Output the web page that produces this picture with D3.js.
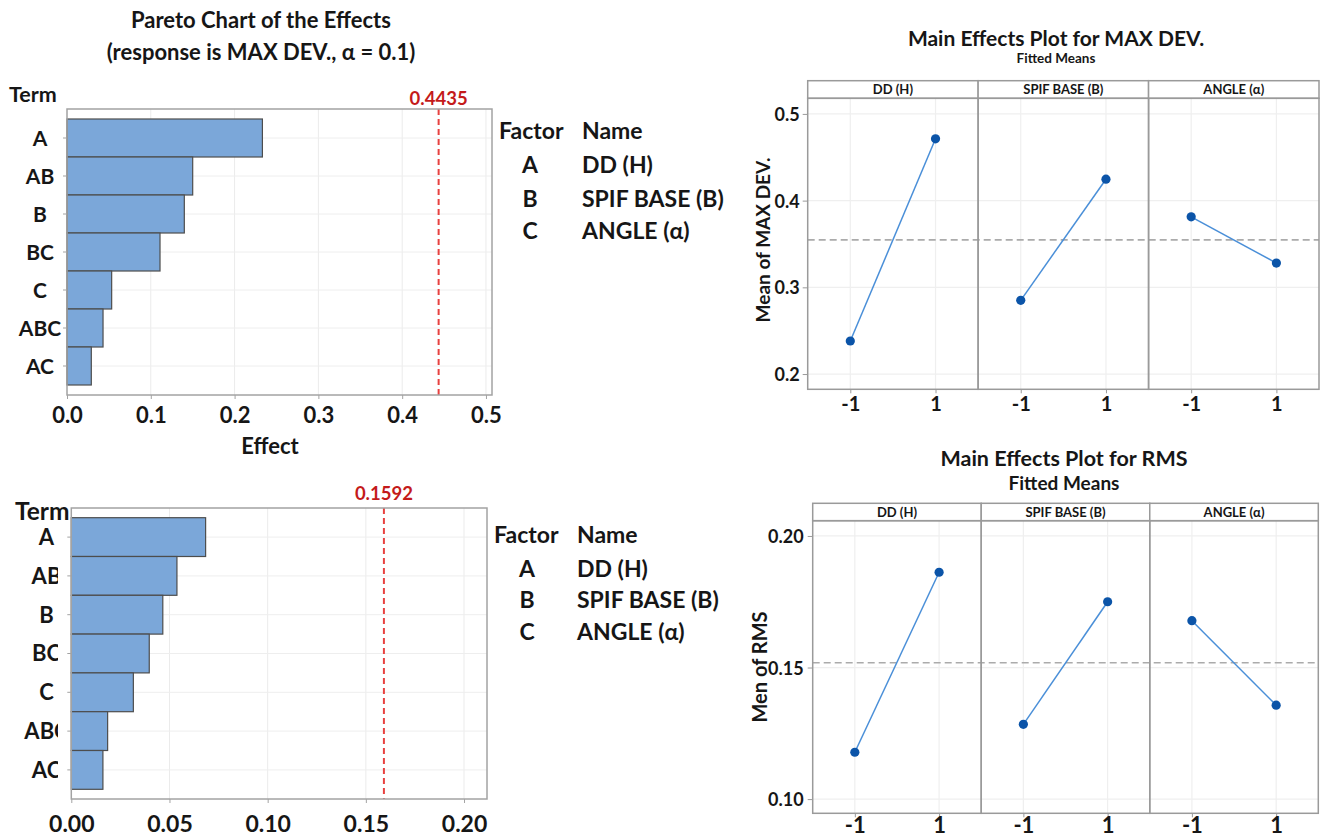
<!DOCTYPE html>
<html>
<head>
<meta charset="utf-8">
<script src="https://cdn.jsdelivr.net/npm/d3@7/dist/d3.min.js"></script>
<style>
  html, body { margin: 0; padding: 0; background: #fff; }
  svg { display: block; font-family: Lato, "Open Sans", sans-serif; font-weight: 700; }
</style>
</head>
<body>
<svg id="chart" width="1321" height="837"></svg>
<script>
// ---- data ----
const paretoTerms = ["A", "AB", "B", "BC", "C", "ABC", "AC"];
const maxDevEffects = [0.2332, 0.150, 0.140, 0.111, 0.0533, 0.043, 0.029];
const rmsEffects = [0.0684, 0.0538, 0.0466, 0.0397, 0.0316, 0.0185, 0.0161];
const maxDevRefEffect = 0.4435;
const rmsRefEffect = 0.1592;
const maxDevEffectTicks = [0, 0.1, 0.2, 0.3, 0.4, 0.5];
const rmsEffectTicks = [0, 0.05, 0.10, 0.15, 0.20];

const factorCodes = ["A", "B", "C"];
const factorNames = ["DD (H)", "SPIF BASE (B)", "ANGLE (α)"];
const levels = [-1, 1];
const maxDevMeans = [[0.2381, 0.4713], [0.2850, 0.4247], [0.3813, 0.3280]];
const rmsMeans = [[0.1178, 0.1862], [0.1284, 0.1750], [0.1678, 0.1357]];
const maxDevGrandMean = 0.3547;
const rmsGrandMean = 0.1518;
const maxDevMeanTicks = [0.2, 0.3, 0.4, 0.5];
const rmsMeanTicks = [0.10, 0.15, 0.20];

// ---- drawing ----
const svg = d3.select("#chart");
const INK = "#161616";

// strip the default font settings d3 axes put on their group
function plainAxis(sel) {
  sel.attr("font-family", null).attr("font-size", null);
  sel.select(".domain").remove();
}

function paretoChart(c) {
  const g = svg.append("g");
  const x = d3.scaleLinear().domain([0, c.xMax]).range([c.left, c.right]);
  const y = d3.scaleBand().domain(paretoTerms).range([c.top + c.pad, c.bottom - c.pad]);

  // grid
  g.selectAll("line.vg").data(c.ticks.slice(1)).join("line")
    .attr("x1", d => x(d)).attr("x2", d => x(d))
    .attr("y1", c.top).attr("y2", c.bottom)
    .attr("stroke", "#ebebeb").attr("stroke-width", 1);
  g.selectAll("line.hg").data(paretoTerms).join("line")
    .attr("x1", c.left).attr("x2", c.right)
    .attr("y1", d => y(d) + y.bandwidth() / 2).attr("y2", d => y(d) + y.bandwidth() / 2)
    .attr("stroke", "#eeeeee").attr("stroke-width", 1);

  // bars
  g.selectAll("rect.bar").data(paretoTerms.map((t, i) => ({ t, v: c.values[i] }))).join("rect")
    .attr("x", x(0)).attr("y", d => y(d.t))
    .attr("width", d => x(d.v) - x(0)).attr("height", y.bandwidth())
    .attr("fill", "#7ba7d9").attr("stroke", "#4d4d4d").attr("stroke-width", 1.2);

  // reference line
  g.append("line")
    .attr("x1", x(c.ref)).attr("x2", x(c.ref))
    .attr("y1", c.top).attr("y2", c.bottom)
    .attr("stroke", "#e8413f").attr("stroke-width", 2).attr("stroke-dasharray", "6,4");
  g.append("text").attr("x", x(c.ref)).attr("y", c.refLabelY)
    .attr("text-anchor", "middle").attr("fill", "#c41a1a")
    .attr("font-size", c.refFont).text(d3.format(".4f")(c.ref));

  // frame
  g.append("rect").attr("x", c.left).attr("y", c.top)
    .attr("width", c.right - c.left).attr("height", c.bottom - c.top)
    .attr("fill", "none").attr("stroke", "#a3a3a3").attr("stroke-width", 1.5);

  // x axis
  const ax = g.append("g").attr("transform", `translate(0,${c.bottom})`)
    .call(d3.axisBottom(x).tickValues(c.ticks).tickFormat(d3.format(c.fmt)).tickSize(4))
    .call(plainAxis);
  ax.selectAll(".tick line").attr("stroke", "#a3a3a3");
  ax.selectAll(".tick text").attr("dy", null).attr("y", c.xLabelDy)
    .attr("fill", INK).attr("font-size", c.xFont);

  // y axis with term labels clipped at the left margin
  const ay = g.append("g").attr("transform", `translate(${c.left},0)`)
    .call(d3.axisLeft(y).tickSize(4))
    .call(plainAxis);
  ay.selectAll(".tick line").attr("stroke", "#a3a3a3");
  ay.selectAll(".tick").each(function (d, i) {
    const cid = `clip-${c.id}-${i}`;
    d3.select(this).append("clipPath").attr("id", cid).append("rect")
      .attr("x", -c.left).attr("y", -40).attr("width", c.labelClip).attr("height", 80);
    d3.select(this).select("text")
      .attr("text-anchor", "middle").attr("x", c.labelX - c.left).attr("dy", "0.36em")
      .attr("fill", INK).attr("font-size", c.labelFont)
      .attr("clip-path", `url(#${cid})`);
  });

  // "Term" header
  g.append("text").attr("x", c.termX).attr("y", c.termY)
    .attr("fill", INK).attr("font-size", c.termFont).text("Term");

  if (c.xTitle) {
    g.append("text").attr("x", c.xTitleX).attr("y", c.xTitleY)
      .attr("text-anchor", "middle").attr("fill", INK).attr("font-size", 22).text(c.xTitle);
  }

  // factor legend
  const lg = g.append("g").attr("fill", INK).attr("font-size", c.legFont);
  lg.append("text").attr("x", c.legX).attr("y", c.legYs[0]).text("Factor");
  lg.append("text").attr("x", c.legNameX).attr("y", c.legYs[0]).text("Name");
  factorCodes.forEach((f, i) => {
    lg.append("text").attr("x", c.legCodeX).attr("y", c.legYs[i + 1])
      .attr("text-anchor", "middle").text(f);
    lg.append("text").attr("x", c.legNameX).attr("y", c.legYs[i + 1])
      .text(factorNames[i]);
  });
}

function mainEffects(c) {
  const g = svg.append("g");
  const y = d3.scaleLinear().domain(c.yDomain).range([c.plotBottom, c.headBottom]);
  const panel = d3.scaleBand().domain(factorNames).range([c.left, c.right]);
  const pw = panel.bandwidth();

  // horizontal grid
  g.selectAll("line.hg").data(c.ticks).join("line")
    .attr("x1", c.left).attr("x2", c.right)
    .attr("y1", d => y(d)).attr("y2", d => y(d))
    .attr("stroke", "#efefef").attr("stroke-width", 1.2);

  factorNames.forEach((name, i) => {
    const x0 = panel(name);
    const x = d3.scaleLinear().domain([-2, 2]).range([x0, x0 + pw]);
    const pg = g.append("g");
    pg.selectAll("line.vg").data(levels).join("line")
      .attr("x1", d => x(d)).attr("x2", d => x(d))
      .attr("y1", c.headBottom).attr("y2", c.plotBottom)
      .attr("stroke", "#efefef").attr("stroke-width", 1.2);
    // x ticks & labels
    const ax = pg.append("g").attr("transform", `translate(0,${c.plotBottom})`)
      .call(d3.axisBottom(x).tickValues(levels).tickFormat(d3.format("d")).tickSize(4))
      .call(plainAxis);
    ax.selectAll(".tick line").attr("stroke", "#9a9a9a");
    ax.selectAll(".tick text").attr("dy", null).attr("y", c.xLabelDy)
      .attr("fill", INK).attr("font-size", c.xFont)
      .text(d => d === -1 ? "-1" : "1");
  });

  // grand mean
  g.append("line").attr("x1", c.left).attr("x2", c.right)
    .attr("y1", y(c.grand)).attr("y2", y(c.grand))
    .attr("stroke", "#ababab").attr("stroke-width", 1.6).attr("stroke-dasharray", "7,4");

  // factor lines and points
  factorNames.forEach((name, i) => {
    const x0 = panel(name);
    const x = d3.scaleLinear().domain([-2, 2]).range([x0, x0 + pw]);
    const pts = levels.map((l, j) => [x(l), y(c.means[i][j])]);
    g.append("path").attr("d", d3.line()(pts))
      .attr("fill", "none").attr("stroke", "#4a8fd8").attr("stroke-width", 1.5);
    g.selectAll(null).data(pts).join("circle")
      .attr("cx", d => d[0]).attr("cy", d => d[1]).attr("r", 4.6)
      .attr("fill", "#0b54a8");
  });

  // header strips and frame
  factorNames.forEach(name => {
    const x0 = panel(name);
    g.append("rect").attr("x", x0).attr("y", c.headTop).attr("width", pw)
      .attr("height", c.headBottom - c.headTop)
      .attr("fill", "#fff").attr("stroke", "#9a9a9a").attr("stroke-width", 1.5);
    g.append("text").attr("x", x0 + pw / 2).attr("y", c.headTop + (c.headBottom - c.headTop) / 2)
      .attr("dy", "0.36em").attr("text-anchor", "middle").attr("fill", INK)
      .attr("font-size", 13).text(name);
    g.append("rect").attr("x", x0).attr("y", c.headBottom).attr("width", pw)
      .attr("height", c.plotBottom - c.headBottom)
      .attr("fill", "none").attr("stroke", "#9a9a9a").attr("stroke-width", 1.5);
  });

  // y axis
  const ay = g.append("g").attr("transform", `translate(${c.left},0)`)
    .call(d3.axisLeft(y).tickValues(c.ticks).tickFormat(d3.format(c.fmt)).tickSize(5))
    .call(plainAxis);
  ay.selectAll(".tick line").attr("stroke", "#9a9a9a");
  ay.selectAll(".tick text").attr("x", -c.yLabelGap).attr("dy", "0.36em")
    .attr("fill", INK).attr("font-size", c.yFont);

  g.append("text")
    .attr("transform", `translate(${c.yTitleX},${c.yTitleY}) rotate(-90)`)
    .attr("text-anchor", "middle").attr("fill", INK).attr("font-size", c.yTitleFont)
    .text(c.yTitle);

  // titles
  g.append("text").attr("x", c.titleX).attr("y", c.titleY)
    .attr("text-anchor", "middle").attr("fill", INK).attr("font-size", c.titleFont).text(c.title);
  g.append("text").attr("x", c.titleX).attr("y", c.subY)
    .attr("text-anchor", "middle").attr("fill", INK).attr("font-size", c.subFont).text("Fitted Means");
}

// Pareto chart titles
svg.append("text").attr("x", 261).attr("y", 28).attr("text-anchor", "middle")
  .attr("fill", INK).attr("font-size", 22).text("Pareto Chart of the Effects");
svg.append("text").attr("x", 261).attr("y", 60).attr("text-anchor", "middle")
  .attr("fill", INK).attr("font-size", 22).text("(response is MAX DEV., α = 0.1)");

paretoChart({
  id: "top", values: maxDevEffects, ref: maxDevRefEffect, ticks: maxDevEffectTicks, fmt: ".1f",
  left: 67, right: 492, top: 109, bottom: 395, pad: 10, xMax: 0.5072,
  refLabelY: 105, refFont: 18.5, xLabelDy: 28, xFont: 22,
  labelX: 40, labelFont: 21, labelClip: 66,
  termX: 9, termY: 102, termFont: 21.5,
  xTitle: "Effect", xTitleX: 270, xTitleY: 454,
  legX: 499, legNameX: 582, legCodeX: 530, legYs: [139, 173, 207, 239], legFont: 23
});

paretoChart({
  id: "bot", values: rmsEffects, ref: rmsRefEffect, ticks: rmsEffectTicks, fmt: ".2f",
  left: 71.3, right: 487, top: 508, bottom: 799, pad: 9.7, xMax: 0.2117,
  refLabelY: 500, refFont: 18.5, xLabelDy: 33, xFont: 23,
  labelX: 46.5, labelFont: 22, labelClip: 58,
  termX: 15, termY: 520, termFont: 24.5,
  xTitle: null,
  legX: 494, legNameX: 577, legCodeX: 527, legYs: [543, 577, 608, 640], legFont: 23
});

mainEffects({
  means: maxDevMeans, grand: maxDevGrandMean, ticks: maxDevMeanTicks, fmt: ".1f",
  yDomain: [0.1824, 0.518], left: 807.7, right: 1319, headTop: 80.7, headBottom: 98.3, plotBottom: 389.3,
  xLabelDy: 22, xFont: 20, yLabelGap: 8, yFont: 18,
  yTitle: "Mean of MAX DEV.", yTitleX: 770, yTitleY: 240, yTitleFont: 19,
  title: "Main Effects Plot for MAX DEV.", titleX: 1056, titleY: 46, titleFont: 21,
  subY: 63, subFont: 13.5
});

mainEffects({
  means: rmsMeans, grand: rmsGrandMean, ticks: rmsMeanTicks, fmt: ".2f",
  yDomain: [0.0946, 0.2058], left: 812.7, right: 1318.3, headTop: 503.3, headBottom: 520.7, plotBottom: 813.3,
  xLabelDy: 20, xFont: 22, yLabelGap: 9, yFont: 18,
  yTitle: "Men of RMS", yTitleX: 767, yTitleY: 667, yTitleFont: 20,
  title: "Main Effects Plot for RMS", titleX: 1064, titleY: 466, titleFont: 21.5,
  subY: 490, subFont: 19
});
</script>
</body>
</html>
